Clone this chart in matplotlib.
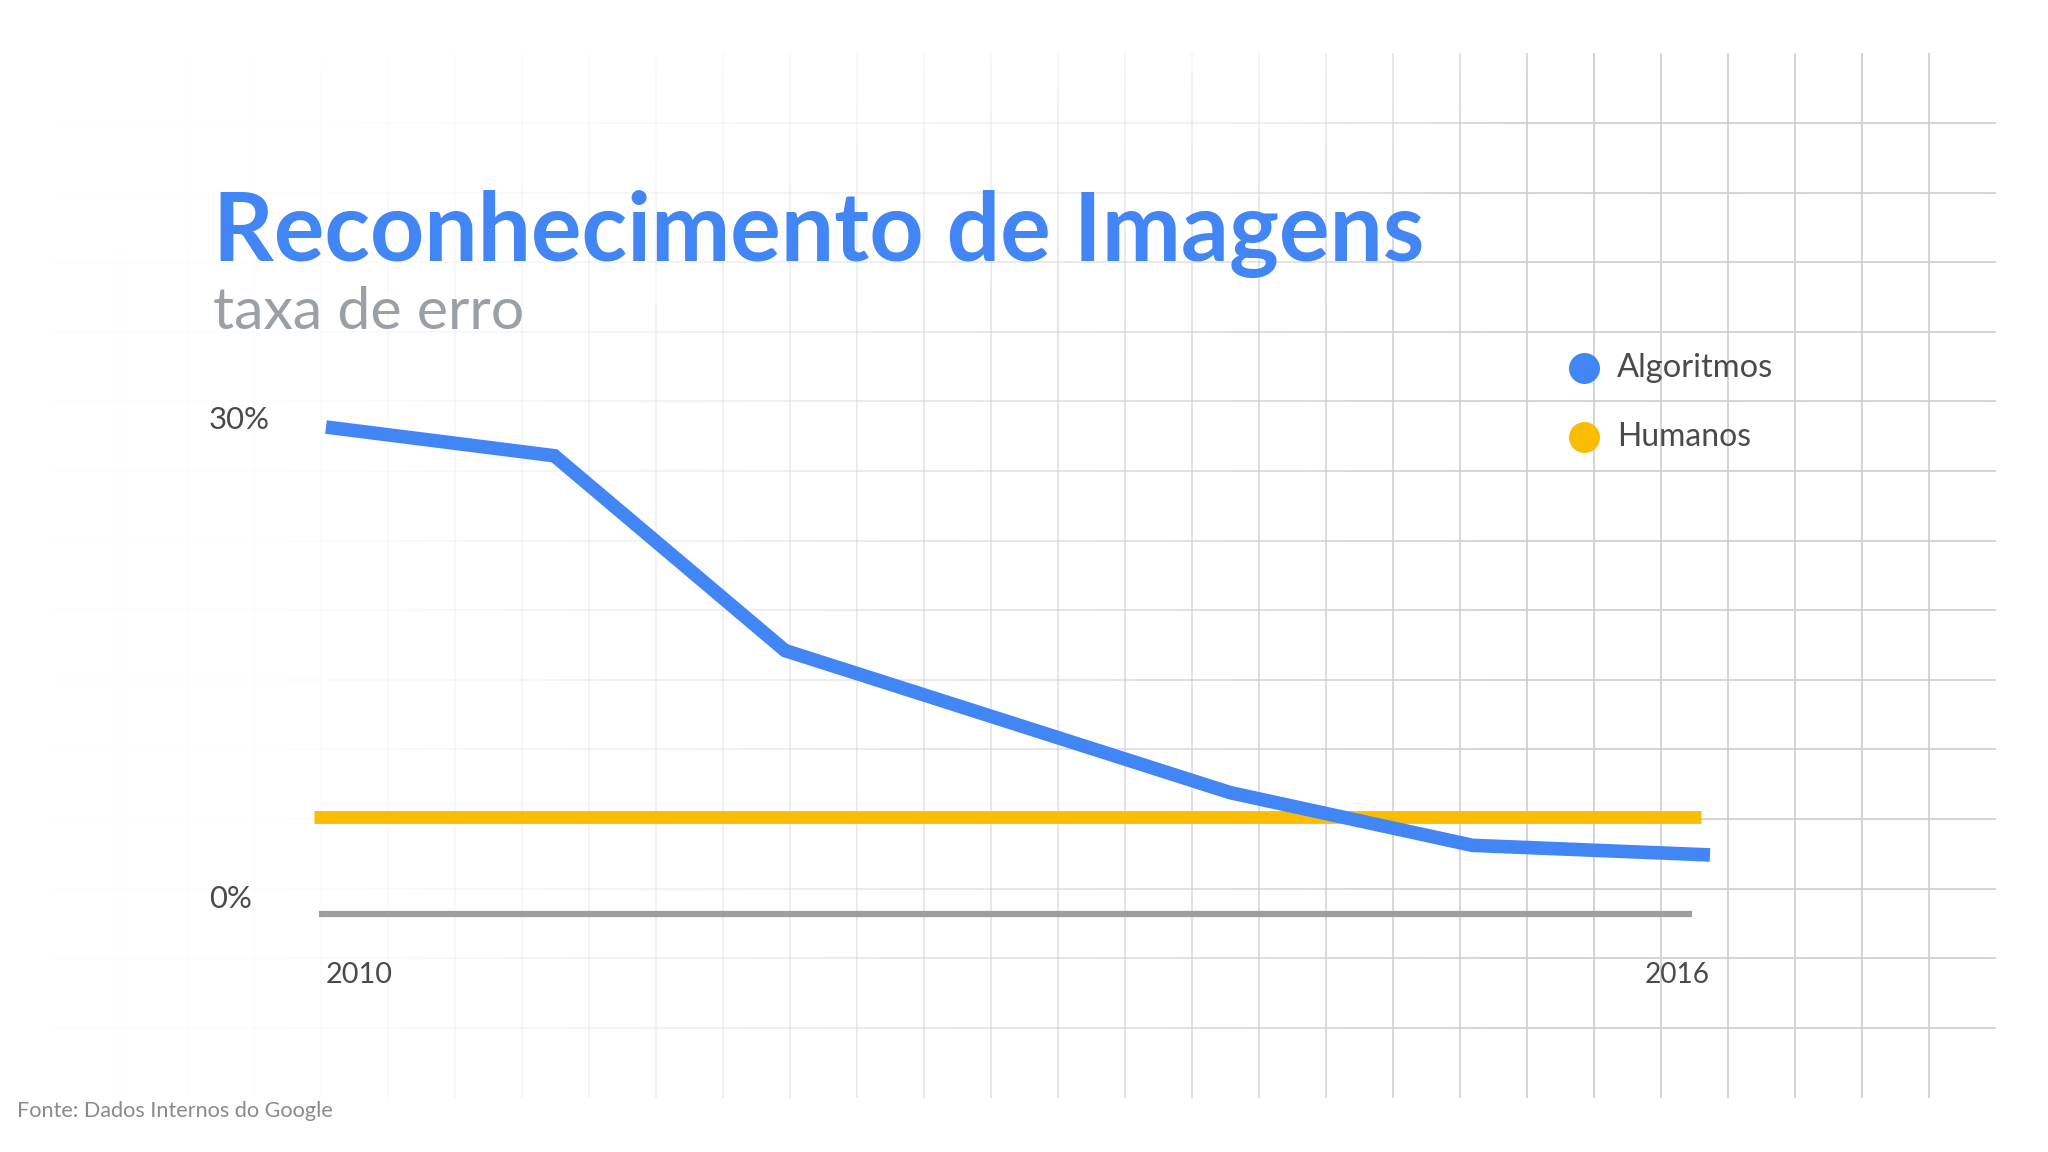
import numpy as np
import matplotlib
matplotlib.use("Agg")
import matplotlib.pyplot as plt
from matplotlib.collections import LineCollection
from matplotlib import transforms

# ---------------- data ----------------
years_alg = [2010, 2010.99, 2011.99, 2013.92, 2014.97, 2016.0]
err_alg = [30.5, 28.7, 16.5, 7.6, 4.3, 3.7]
human_x = [2009.95, 2015.96]
human_err = [6.1, 6.1]
base_x = [2009.97, 2015.92]
y_ticks = [0, 30]
y_tick_labels = ["0%", "30%"]
x_ticks = [2010, 2016]
x_tick_labels = ["2010", "2016"]
series_names = ["Algoritmos", "Humanos"]

BLUE = "#4285f4"
YELLOW = "#fbbc04"
GRAY = "#9e9e9e"
TXT = "#4a4a4a"

W, H = 2048, 1152
fig = plt.figure(figsize=(W / 100, H / 100), dpi=100)
fig.patch.set_facecolor("white")

# background pixel axes for decorative grid
bg = fig.add_axes([0, 0, 1, 1])
bg.set_xlim(0, W)
bg.set_ylim(H, 0)
bg.axis("off")


def grid_alpha(x, y):
    fx = np.clip(0.06 + 0.94 * (x - 250) / 1250.0, 0.06, 1.0) ** 1.2
    fy = np.clip(0.3 + 0.7 * (y - 53) / 300.0 + np.maximum(0, x - 1300) / 400.0, 0, 1)
    return fx * fy


segs, cols = [], []
base_rgb = np.array([0.80, 0.80, 0.84])
vx = [1929 - 67 * k for k in range(28)]
hy = [123 + 69.6 * j for j in range(14)]
for x in vx:
    ys = np.linspace(53, 1098, 60)
    for a, b in zip(ys[:-1], ys[1:]):
        segs.append([(x, a), (x, b)])
        al = grid_alpha(x, (a + b) / 2)
        cols.append((*base_rgb, al))
for y in hy:
    xs = np.linspace(52, 1996, 100)
    for a, b in zip(xs[:-1], xs[1:]):
        segs.append([(a, y), (b, y)])
        al = grid_alpha((a + b) / 2, y)
        cols.append((*base_rgb, al))
bg.add_collection(LineCollection(segs, colors=cols, linewidths=1.2, capstyle="butt"))

# main chart axes
ax = fig.add_axes([326 / W, (H - 914) / H, 1384 / W, 479 / H])
ax.set_xlim(2010, 2016)
ax.set_ylim(0, 30)
ax.axis("off")
ax.patch.set_alpha(0)

ax.plot(base_x, [0, 0], color=GRAY, lw=4.5, solid_capstyle="butt", clip_on=False, zorder=2)
ax.plot(human_x, human_err, color=YELLOW, lw=9.2, solid_capstyle="butt", clip_on=False, zorder=3)
ax.plot(years_alg, err_alg, color=BLUE, lw=9.8, solid_capstyle="butt",
        solid_joinstyle="miter", clip_on=False, zorder=4)

renderer = fig.canvas.get_renderer()


def fit(t, target_w):
    bb = t.get_window_extent(renderer)
    t.set_fontsize(t.get_fontsize() * target_w / bb.width)


# y tick labels
ytr = transforms.blended_transform_factory(bg.transData, ax.transData) + \
    transforms.ScaledTranslation(0, 15 / 100, fig.dpi_scale_trans)
for v, lab in zip(y_ticks, y_tick_labels):
    t = ax.text(209, v, lab, transform=ytr, ha="left", va="center",
                fontsize=24, color=TXT, family="Lato")
    fit(t, 61 if lab == "30%" else 43)

# x tick labels
xtr = transforms.blended_transform_factory(ax.transData, bg.transData)
for v, lab, ha, w in zip(x_ticks, x_tick_labels, ["left", "right"], [67, 65]):
    t = ax.text(v, 975, lab, transform=xtr, ha=ha, va="center",
                fontsize=24, color=TXT, family="Lato")
    fit(t, w)

# title / subtitle
t = bg.text(213, 261, "Reconhecimento de Imagens", ha="left", va="baseline",
            fontsize=60, color=BLUE, family="Lato", fontweight="bold")
fit(t, 1211)
t = bg.text(213, 329, "taxa de erro", ha="left", va="baseline",
            fontsize=36, color="#9aa0a6", family="Lato")
fit(t, 311)

# legend
for (yy, c, name, w) in [(368, BLUE, series_names[0], 156), (437, YELLOW, series_names[1], 134)]:
    bg.scatter([1584], [yy], s=(31 * 0.72) ** 2, color=c, zorder=5, linewidths=0)
    t = bg.text(1617, yy, name, ha="left", va="center", fontsize=26,
                color=TXT, family="Lato")
    fit(t, w)

# footer
t = bg.text(17, 1111, "Fonte: Dados Internos do Google", ha="left", va="center",
            fontsize=16, color="#8a8a8a", family="Lato")
fit(t, 316)

fig.savefig("out.png", dpi=100, facecolor="white")
